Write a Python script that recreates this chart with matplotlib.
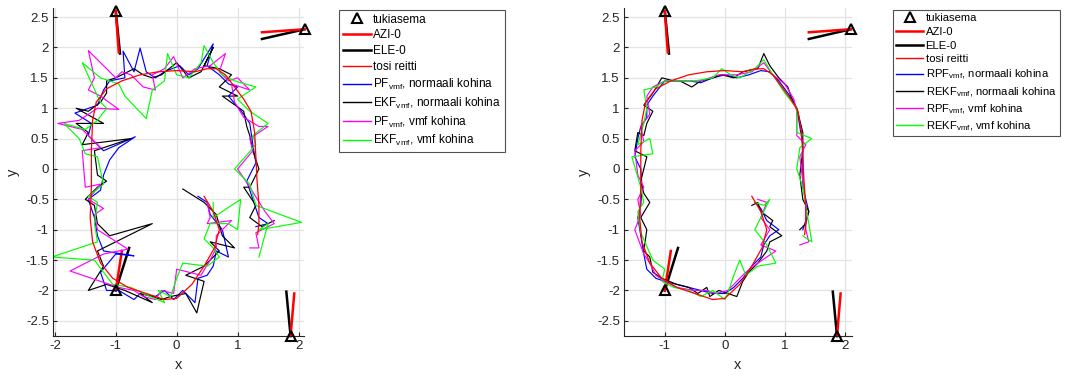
import numpy as np
import matplotlib
matplotlib.use("Agg")
import matplotlib.pyplot as plt

plt.rcParams['font.family'] = ['Liberation Sans', 'DejaVu Sans']
plt.rcParams['mathtext.fontset'] = 'custom'
plt.rcParams['mathtext.rm'] = 'Liberation Sans'

# tukiasemat ja suuntaviivat (AZI / ELE)
stations = [(-1.0, 2.6), (2.1, 2.3), (-1.0, -2.0), (1.87, -2.75)]
azi_ends = [(-0.95, 1.92), (1.4, 2.25), (-0.9, -1.35), (1.93, -2.05)]
ele_ends = [(-0.93, 1.9), (1.4, 2.14), (-0.78, -1.3), (1.8, -2.02)]

# tosi reitti
true_route = [(0.45, -0.45), (0.6, -0.7), (0.7, -1.0), (0.62, -1.3), (0.45, -1.6), (0.25, -1.9),
              (0.0, -2.13), (-0.2, -2.15), (-0.5, -2.05), (-0.8, -1.95), (-1.05, -1.8), (-1.25, -1.55),
              (-1.38, -1.2), (-1.42, -0.8), (-1.4, -0.3), (-1.4, 0.3), (-1.38, 0.8), (-1.32, 1.1),
              (-1.15, 1.32), (-0.9, 1.45), (-0.6, 1.55), (-0.3, 1.6), (0.0, 1.62), (0.3, 1.6),
              (0.5, 1.65), (0.65, 1.65), (0.8, 1.55), (0.95, 1.35), (1.1, 1.15), (1.22, 0.95),
              (1.28, 0.6), (1.3, 0.2), (1.32, -0.2), (1.35, -0.6), (1.35, -0.9), (1.33, -1.08)]

# vasen kuva: PF / EKF
pf_norm = [(0.35, -0.45), (0.5, -0.55), (0.55, -0.75), (0.75, -1.0), (0.85, -1.45), (0.65, -1.35), (0.6, -1.6),
           (0.5, -1.75), (0.35, -1.8), (0.3, -2.2), (0.1, -2.0), (-0.05, -2.15), (-0.2, -2.0), (-0.35, -2.1),
           (-0.6, -2.05), (-0.7, -2.15), (-0.95, -2.0), (-1.15, -2.0), (-1.25, -1.7), (-1.0, -1.4), (-0.7, -1.43),
           (-1.2, -1.35), (-1.3, -1.1), (-1.35, -0.8), (-1.45, -0.5), (-1.25, -0.35), (-1.2, -0.1), (-1.1, 0.15),
           (-0.95, 0.35), (-0.68, 0.53), (-1.2, 0.3), (-1.45, 0.55), (-1.4, 0.75), (-1.67, 0.92), (-1.3, 1.05),
           (-1.2, 1.3), (-1.1, 1.45), (-0.85, 1.5), (-0.88, 1.94), (-0.7, 1.6), (-0.6, 1.99), (-0.5, 1.6),
           (-0.35, 1.5), (-0.2, 1.6), (0.05, 1.7), (0.2, 1.55), (0.35, 1.65), (0.6, 2.06), (0.5, 1.7), (0.7, 1.55),
           (0.85, 1.4), (1.0, 1.35), (0.85, 1.2), (1.1, 0.9), (1.2, 0.75), (1.25, 0.4), (1.3, 0.1), (1.15, -0.2),
           (1.25, -0.5), (1.35, -0.8), (1.5, -0.9), (1.3, -0.95)]
ekf_norm = [(0.1, -0.33), (0.45, -0.55), (0.65, -0.75), (0.75, -1.1), (0.95, -1.3), (0.55, -1.2), (0.7, -1.35),
            (0.45, -1.6), (0.15, -1.75), (0.45, -1.85), (0.33, -2.37), (0.15, -2.05), (-0.1, -2.1), (-0.25, -2.15),
            (-0.4, -2.1), (-0.6, -2.05), (-0.4, -2.2), (-0.85, -2.0), (-1.15, -1.9), (-1.45, -2.0), (-1.2, -1.6),
            (-1.3, -1.35), (-0.4, -0.9), (-1.1, -1.1), (-1.3, -0.9), (-1.35, -0.6), (-1.5, -0.5), (-1.3, -0.3),
            (-1.15, -0.2), (-1.3, -0.1), (-1.35, 0.3), (-0.75, 0.5), (-1.55, 0.4), (-1.45, 0.6), (-1.65, 0.75),
            (-1.2, 0.75), (-1.65, 1.0), (-1.45, 0.95), (-1.25, 1.1), (-1.15, 1.25), (-1.15, 1.45), (-1.0, 1.5),
            (-0.8, 1.6), (-0.7, 1.65), (-0.55, 1.55), (-0.4, 1.5), (-0.25, 1.55), (0.0, 1.75), (0.2, 1.5),
            (0.4, 1.6), (0.6, 2.0), (0.45, 1.7), (0.7, 1.65), (0.9, 1.55), (0.7, 1.35), (1.0, 1.2), (0.75, 1.2),
            (1.1, 0.95), (1.15, 0.7), (1.2, 0.55), (1.25, 0.3), (1.35, 0.0), (1.2, -0.3), (1.1, -0.3), (1.3, -0.6),
            (1.2, -0.8), (1.4, -0.95), (1.6, -0.85)]
pf_vmf = [(0.5, -0.55), (0.55, -0.8), (0.5, -0.9), (0.9, -0.85), (0.65, -1.1), (0.65, -1.3), (0.55, -1.5),
          (0.4, -1.75), (0.0, -1.65), (-0.05, -2.05), (-0.25, -2.0), (-0.35, -2.15), (-0.55, -2.1), (-0.7, -2.0),
          (-0.95, -1.95), (-1.25, -1.85), (-1.75, -1.68), (-1.2, -1.4), (-0.8, -1.32), (-1.3, -1.0), (-1.35, -0.75),
          (-1.2, -0.65), (-1.45, -0.5), (-1.25, -0.25), (-1.5, -0.3), (-1.55, 0.3), (-1.25, 0.35), (-1.45, 0.55),
          (-1.55, 0.65), (-1.95, 0.75), (-1.6, 0.8), (-1.3, 1.0), (-0.95, 0.98), (-1.25, 1.2), (-1.45, 1.3),
          (-1.35, 1.5), (-1.45, 1.95), (-1.0, 1.5), (-0.9, 1.6), (-0.75, 1.55), (-0.55, 1.35), (-0.35, 1.3),
          (-0.4, 1.55), (-0.2, 1.65), (-0.05, 1.85), (0.1, 1.5), (0.3, 1.65), (0.55, 1.7), (0.8, 1.9), (0.7, 1.6),
          (0.85, 1.45), (1.0, 1.5), (1.2, 1.3), (0.9, 1.4), (0.95, 1.1), (1.1, 0.85), (1.35, 0.7), (1.5, 0.7),
          (1.2, 0.5), (1.25, 0.3), (1.0, 0.0), (1.2, -0.3), (1.45, -0.7), (1.6, -0.9), (1.3, -1.05), (1.35, -1.3),
          (1.2, -1.3)]
ekf_vmf = [(0.6, -0.55), (0.6, -0.8), (1.05, -0.5), (1.0, -1.0), (0.85, -0.9), (0.55, -0.9), (0.45, -1.15),
           (0.6, -1.3), (0.7, -1.45), (0.5, -1.6), (0.1, -1.55), (0.0, -1.8), (-0.1, -2.1), (-0.3, -2.0),
           (-0.2, -2.2), (-0.55, -2.05), (-0.75, -1.95), (-1.05, -1.9), (-1.35, -1.5), (-2.05, -1.45), (-1.3, -1.2),
           (-1.35, -0.9), (-1.3, -0.55), (-1.45, -0.45), (-1.2, -0.25), (-1.3, 0.2), (-1.5, 0.25), (-1.6, 0.5),
           (-1.85, 0.75), (-1.5, 0.65), (-1.3, 0.8), (-1.15, 1.0), (-1.25, 1.1), (-1.3, 1.2), (-1.55, 1.75),
           (-1.25, 1.5), (-0.95, 1.4), (-0.85, 1.2), (-0.5, 0.83), (-0.4, 1.3), (-0.2, 1.45), (-0.15, 1.9),
           (0.0, 1.55), (0.2, 1.5), (0.4, 1.75), (0.45, 2.03), (0.6, 1.75), (0.75, 1.55), (0.95, 1.45), (1.3, 1.35),
           (1.0, 1.15), (1.2, 0.95), (1.5, 0.75), (1.25, 0.55), (1.3, 0.4), (0.95, 0.0), (1.2, -0.25), (1.3, -0.6),
           (2.05, -0.88), (1.35, -1.0), (1.5, -0.9), (1.35, -1.45)]

# oikea kuva: RPF / REKF
rpf_norm = [(0.5, -0.55), (0.6, -0.65), (0.7, -0.85), (0.9, -1.0), (0.75, -1.1), (0.65, -1.25), (0.6, -1.45),
            (0.45, -1.6), (0.3, -1.8), (0.15, -1.95), (0.0, -2.05), (-0.2, -2.05), (-0.4, -2.0), (-0.6, -1.95),
            (-0.8, -1.9), (-1.0, -1.85), (-1.15, -1.8), (-1.3, -1.65), (-1.35, -1.4), (-1.4, -1.1), (-1.45, -0.8),
            (-1.4, -0.6), (-1.38, -0.3), (-1.4, 0.0), (-1.5, 0.2), (-1.45, 0.5), (-1.4, 0.7), (-1.3, 0.85),
            (-1.3, 1.05), (-1.2, 1.2), (-1.0, 1.45), (-0.8, 1.45), (-0.6, 1.45), (-0.4, 1.42), (-0.2, 1.5),
            (0.0, 1.55), (0.2, 1.5), (0.4, 1.55), (0.6, 1.62), (0.75, 1.6), (0.9, 1.45), (1.05, 1.25), (1.2, 1.0),
            (1.25, 0.7), (1.3, 0.4), (1.3, 0.1), (1.3, -0.3), (1.4, -0.7), (1.3, -1.0)]
rekf_norm = [(0.45, -0.6), (0.55, -0.55), (0.6, -0.7), (0.8, -0.85), (0.75, -0.95), (0.95, -1.1), (0.75, -1.2),
             (0.7, -1.35), (0.55, -1.55), (0.4, -1.7), (0.3, -1.85), (0.2, -2.1), (0.05, -2.05), (-0.1, -2.0),
             (-0.25, -2.1), (-0.3, -1.95), (-0.45, -2.05), (-0.6, -1.95), (-0.8, -1.9), (-1.05, -1.8), (-1.2, -1.7),
             (-1.25, -1.45), (-1.35, -1.35), (-1.3, -1.0), (-1.4, -0.8), (-1.25, -0.55), (-1.35, -0.4), (-1.4, -0.2),
             (-1.35, 0.0), (-1.3, 0.2), (-1.5, 0.3), (-1.45, 0.6), (-1.35, 0.55), (-1.3, 0.75), (-1.2, 0.95),
             (-1.35, 1.05), (-1.2, 1.25), (-1.05, 1.5), (-0.85, 1.45), (-0.75, 1.45), (-0.55, 1.35), (-0.4, 1.45),
             (-0.2, 1.5), (-0.05, 1.55), (0.15, 1.5), (0.3, 1.6), (0.55, 1.65), (0.65, 1.9), (0.75, 1.7),
             (0.9, 1.5), (1.05, 1.35), (1.1, 1.2), (1.2, 1.0), (1.3, 0.6), (1.3, 0.3), (1.25, -0.1), (1.3, -0.5),
             (1.4, -0.7), (1.35, -0.9), (1.25, -1.0)]
rpf_vmf = [(0.55, -0.5), (0.7, -0.55), (0.6, -0.8), (0.75, -1.0), (0.6, -1.25), (0.85, -1.35), (0.55, -1.55),
           (0.35, -1.7), (0.2, -1.85), (0.05, -2.0), (-0.15, -2.05), (-0.3, -2.0), (-0.5, -2.0), (-0.8, -1.95),
           (-1.0, -1.85), (-1.15, -1.75), (-1.25, -1.55), (-1.35, -1.4), (-1.5, -1.0), (-1.4, -0.75), (-1.45, -0.5),
           (-1.35, -0.3), (-1.45, -0.1), (-1.5, 0.3), (-1.35, 0.45), (-1.4, 0.7), (-1.25, 0.9), (-1.3, 1.2),
           (-1.2, 1.35), (-1.0, 1.45), (-0.7, 1.45), (-0.4, 1.45), (-0.1, 1.55), (0.2, 1.55), (0.45, 1.6),
           (0.65, 1.75), (0.8, 1.55), (1.0, 1.4), (1.15, 1.15), (1.2, 0.95), (1.2, 0.55), (1.35, 0.4), (1.25, 0.2),
           (1.3, -0.2), (1.35, -0.6), (1.35, -1.0), (1.4, -1.2), (1.25, -1.25)]
rekf_vmf = [(0.5, -0.55), (0.65, -0.6), (0.75, -0.5), (0.6, -0.8), (0.5, -1.0), (0.7, -1.25), (0.85, -1.55),
            (0.55, -1.6), (0.35, -1.75), (0.25, -1.5), (0.15, -1.75), (0.05, -2.05), (0.0, -2.15), (-0.2, -2.0),
            (-0.4, -2.1), (-0.6, -2.0), (-0.85, -1.95), (-1.05, -1.85), (-1.0, -1.65), (-1.2, -1.5), (-1.4, -1.05),
            (-1.45, -0.7), (-1.35, -0.55), (-1.4, -0.3), (-1.55, 0.2), (-1.2, 0.25), (-1.25, 0.5), (-1.45, 0.4),
            (-1.35, 0.75), (-1.3, 1.0), (-1.35, 1.3), (-1.15, 1.35), (-1.0, 1.45), (-0.7, 1.45), (-0.5, 1.45),
            (-0.2, 1.5), (-0.05, 1.65), (0.1, 1.55), (0.25, 1.5), (0.5, 1.65), (0.65, 1.8), (0.8, 1.55),
            (1.0, 1.25), (1.2, 1.0), (1.2, 0.6), (1.45, 0.5), (1.25, 0.35), (1.2, 0.0), (1.3, -0.3), (1.35, -0.6),
            (1.45, -1.2), (1.3, -1.1)]

left_labels = ['PF$_{\\mathrm{vmf}}$, normaali kohina', 'EKF$_{\\mathrm{vmf}}$, normaali kohina',
               'PF$_{\\mathrm{vmf}}$, vmf kohina', 'EKF$_{\\mathrm{vmf}}$, vmf kohina']
right_labels = ['RPF$_{\\mathrm{vmf}}$, normaali kohina', 'REKF$_{\\mathrm{vmf}}$, normaali kohina',
                'RPF$_{\\mathrm{vmf}}$, vmf kohina', 'REKF$_{\\mathrm{vmf}}$, vmf kohina']
track_colors = ['#0000ff', '#000000', '#ff00ff', '#00ff00']

fig = plt.figure(figsize=(10.65, 3.76), dpi=100)


def draw_panel(rect, tracks, labels, xlim, xticks, legend_x, legend_fs):
    ax = fig.add_axes(rect)
    sx, sy = zip(*stations)
    h_st, = ax.plot(sx, sy, '^', ms=7.5, mfc='none', mec='k', mew=1.5, label='tukiasema', zorder=6,
                    clip_on=False)
    for (x0, y0), (xa, ya), (xe, ye) in zip(stations, azi_ends, ele_ends):
        h_ele, = ax.plot([x0, xe], [y0, ye], color='k', lw=1.8, label='ELE-0', clip_on=False)
        h_azi, = ax.plot([x0, xa], [y0, ya], color='r', lw=1.8, label='AZI-0', clip_on=False)
    tx, ty = zip(*true_route)
    h_true, = ax.plot(tx, ty, color='r', lw=0.9, label='tosi reitti', zorder=5)
    handles = [h_st, h_azi, h_ele, h_true]
    for tr, lab, c in zip(tracks, labels, track_colors):
        xs, ys = zip(*tr)
        h, = ax.plot(xs, ys, color=c, lw=0.85, label=lab)
        handles.append(h)

    ax.set_xlim(*xlim)
    ax.set_ylim(-2.75, 2.65)
    ax.set_xticks(xticks)
    ax.set_yticks(np.arange(-2.5, 2.51, 0.5))
    ax.set_yticklabels(['-2.5', '-2', '-1.5', '-1', '-0.5', '0', '0.5', '1', '1.5', '2', '2.5'])
    ax.set_xticklabels([str(t) for t in xticks])
    ax.grid(True, color='#e3e3e3', lw=0.9)
    ax.set_axisbelow(True)
    for s in ['top', 'right']:
        ax.spines[s].set_visible(False)
    for s in ['left', 'bottom']:
        ax.spines[s].set_color('#262626')
        ax.spines[s].set_linewidth(0.8)
    ax.tick_params(direction='in', length=3, labelsize=9.5, colors='#262626', pad=3)
    ax.set_xlabel('x', fontsize=10.5, color='#262626', labelpad=4)
    ax.set_ylabel('y', fontsize=10.5, color='#262626', labelpad=4)

    leg = fig.legend(handles=handles, loc='upper left', bbox_to_anchor=(legend_x, 1 - 10 / 376),
                     fontsize=legend_fs, frameon=True, fancybox=False, edgecolor='#262626',
                     handlelength=2.4, handletextpad=0.2, borderpad=0.3, labelspacing=0.32,
                     borderaxespad=0)
    leg.get_frame().set_linewidth(0.8)
    for line in leg.get_lines()[3:]:
        line.set_linewidth(1.0)
    return ax


draw_panel([53 / 1065, 40 / 376, 251 / 1065, 328 / 376], [pf_norm, ekf_norm, pf_vmf, ekf_vmf],
           left_labels, (-2.03, 2.09), [-2, -1, 0, 1, 2], 339 / 1065, 8.5)
draw_panel([624 / 1065, 40 / 376, 228 / 1065, 328 / 376], [rpf_norm, rekf_norm, rpf_vmf, rekf_vmf],
           right_labels, (-1.68, 2.12), [-1, 0, 1, 2], 893 / 1065, 8.1)

fig.savefig('out.png', dpi=100)
